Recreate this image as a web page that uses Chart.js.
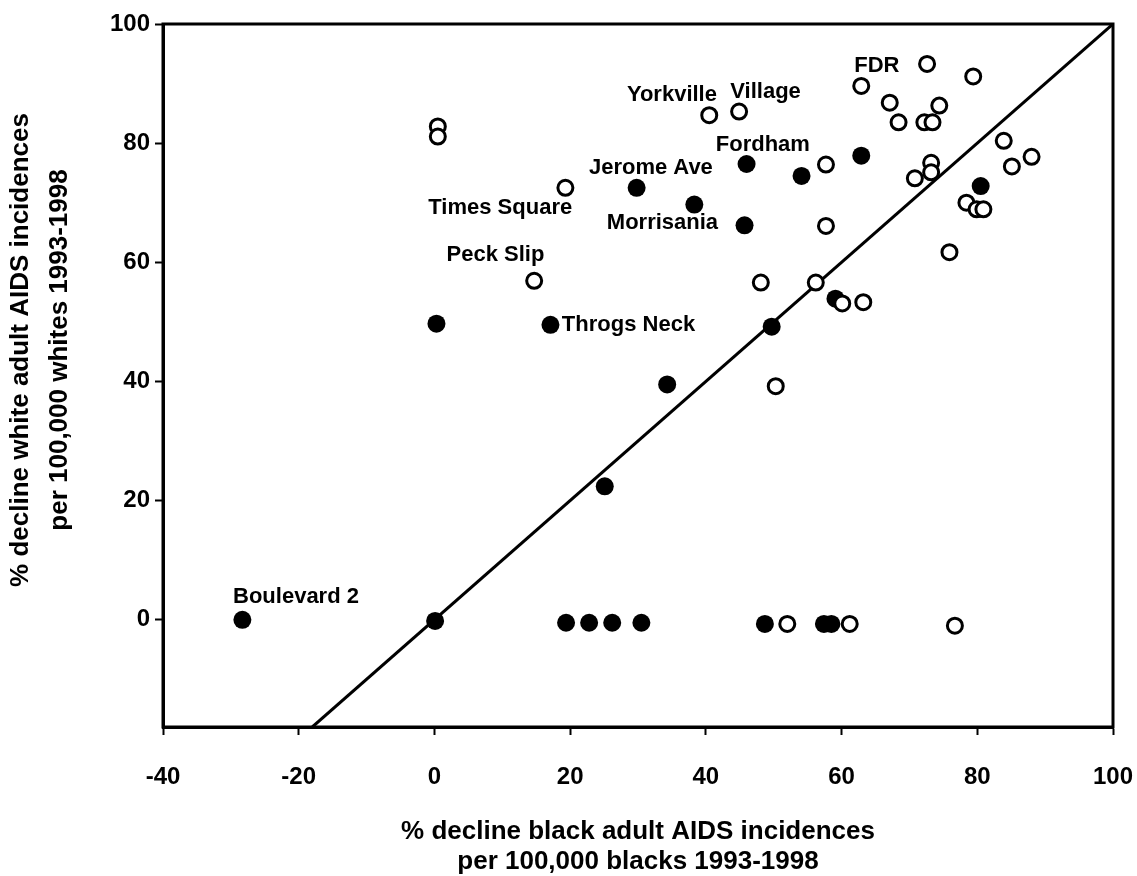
<!DOCTYPE html>
<html><head><meta charset="utf-8">
<script src="https://cdn.jsdelivr.net/npm/chart.js@4.4.0/dist/chart.umd.min.js"></script>
<style>html,body{margin:0;padding:0;background:#fff;}#wrap{width:1137px;height:876px;position:relative;}</style>
</head><body><div id="wrap"><canvas id="c"></canvas></div>
<script>
// ---- data ----
const xTickValues = [-40, -20, 0, 20, 40, 60, 80, 100];
const yTickValues = [0, 20, 40, 60, 80, 100];
const xMin = -40, xMax = 100, yMin = -18, yMax = 100;

// filled circles
const filledX = [-28.3, 0.1, 0.3, 17.1, 25.1, 34.3, 29.8, 38.3, 45.7, 46.0, 54.1, 62.9, 80.5, 49.7, 59.1, 19.4, 22.8, 26.2, 30.5, 48.7, 57.4, 58.5];
const filledY = [0.0, -0.2, 49.7, 49.5, 22.4, 39.5, 72.5, 69.7, 66.2, 76.5, 74.5, 77.9, 72.8, 49.2, 53.9, -0.5, -0.5, -0.5, -0.5, -0.7, -0.7, -0.7];

// open circles
const openX = [0.5, 0.5, 19.3, 14.7, 40.5, 44.9, 72.6, 79.4, 62.9, 67.1, 74.4, 68.4, 72.2, 73.4, 57.7, 73.2, 73.2, 70.8, 83.9, 88.0, 85.1, 78.4, 79.9, 80.9, 75.9, 57.7, 48.1, 56.2, 60.1, 63.2, 50.3, 52.0, 61.2, 76.7];
const openY = [82.8, 81.1, 72.5, 56.9, 84.7, 85.3, 93.3, 91.2, 89.6, 86.8, 86.3, 83.5, 83.5, 83.5, 76.4, 76.7, 75.1, 74.1, 80.4, 77.7, 76.1, 70.0, 68.9, 68.9, 61.7, 66.1, 56.6, 56.6, 53.1, 53.3, 39.2, -0.7, -0.7, -1.0];

// reference line y = x
const diagX = [-18, 100];
const diagY = [-18, 100];

// point labels (text and anchor in data units)
const labelText = ['Yorkville', 'Village', 'FDR', 'Fordham', 'Jerome Ave', 'Times Square', 'Morrisania', 'Peck Slip', 'Throgs Neck', 'Boulevard 2'];
const labelX = [35.0, 48.8, 65.2, 48.4, 31.9, 9.7, 33.6, 9.0, 28.6, -20.4];
const labelY = [88.1, 88.6, 93.0, 79.7, 75.9, 69.2, 66.6, 61.3, 49.5, 3.8];

const xTitle = ['% decline black adult AIDS incidences', 'per 100,000 blacks 1993-1998'];
const yTitle = ['% decline white adult AIDS incidences', 'per 100,000 whites 1993-1998'];

// ---- build ----
const zip = (xs, ys) => xs.map((x, i) => ({x: x, y: ys[i]}));
const FONT = '"Liberation Sans", Arial, sans-serif';

const decor = {
  id: 'decor',
  afterDatasetsDraw(chart) {
    const ctx = chart.ctx, a = chart.chartArea;
    const xs = chart.scales.x, ys = chart.scales.y;
    ctx.save();
    // frame
    ctx.strokeStyle = '#000';
    ctx.lineWidth = 3;
    ctx.strokeRect(a.left, a.top, a.right - a.left, a.bottom - a.top);
    // labels
    ctx.fillStyle = '#000';
    ctx.font = 'bold 22px ' + FONT;
    ctx.textAlign = 'center';
    ctx.textBaseline = 'middle';
    labelText.forEach((t, i) => {
      ctx.fillText(t, xs.getPixelForValue(labelX[i]), ys.getPixelForValue(labelY[i]));
    });
    // axis titles
    ctx.font = 'bold 26px ' + FONT;
    const cx = (a.left + a.right) / 2;
    ctx.fillText(xTitle[0], cx, 832);
    ctx.fillText(xTitle[1], cx, 862);
    ctx.translate(0, 350);
    ctx.rotate(-Math.PI / 2);
    ctx.fillText(yTitle[0], 0, 21);
    ctx.fillText(yTitle[1], 0, 60);
    ctx.restore();
  }
};

const tickFont = {family: FONT, weight: 'bold', size: 24};

new Chart(document.getElementById('c'), {
  type: 'scatter',
  data: {
    datasets: [
      {type: 'line', data: zip(diagX, diagY), borderColor: '#000', borderWidth: 3, pointRadius: 0, fill: false, order: 2},
      {data: zip(filledX, filledY), pointRadius: 9, pointBackgroundColor: '#000', pointBorderColor: '#000', pointBorderWidth: 0, order: 1},
      {data: zip(openX, openY), pointRadius: 7.5, pointBackgroundColor: '#fff', pointBorderColor: '#000', pointBorderWidth: 3, order: 0}
    ]
  },
  options: {
    responsive: true,
    maintainAspectRatio: false,
    animation: false,
    layout: {autoPadding: false, padding: {top: 24, right: 24, left: 0, bottom: 0}},
    plugins: {legend: {display: false}, tooltip: {enabled: false}},
    scales: {
      x: {
        type: 'linear', min: xMin, max: xMax,
        afterBuildTicks: s => { s.ticks = xTickValues.map(v => ({value: v})); },
        afterFit: s => { s.height = 149; s.paddingLeft = 0; s.paddingRight = 0; },
        ticks: {font: tickFont, color: '#000', padding: 28, maxRotation: 0, autoSkip: false},
        grid: {drawOnChartArea: false, drawTicks: true, tickLength: 8, tickWidth: 2, tickColor: '#000'},
        border: {display: true, color: '#000', width: 3}
      },
      y: {
        type: 'linear', min: yMin, max: yMax,
        afterBuildTicks: s => { s.ticks = yTickValues.map(v => ({value: v})); },
        afterFit: s => { s.width = 163; s.paddingTop = 0; s.paddingBottom = 0; },
        ticks: {font: tickFont, color: '#000', padding: 5, autoSkip: false},
        grid: {drawOnChartArea: false, drawTicks: true, tickLength: 8, tickWidth: 2, tickColor: '#000'},
        border: {display: true, color: '#000', width: 3}
      }
    }
  },
  plugins: [decor]
});
</script></body></html>
